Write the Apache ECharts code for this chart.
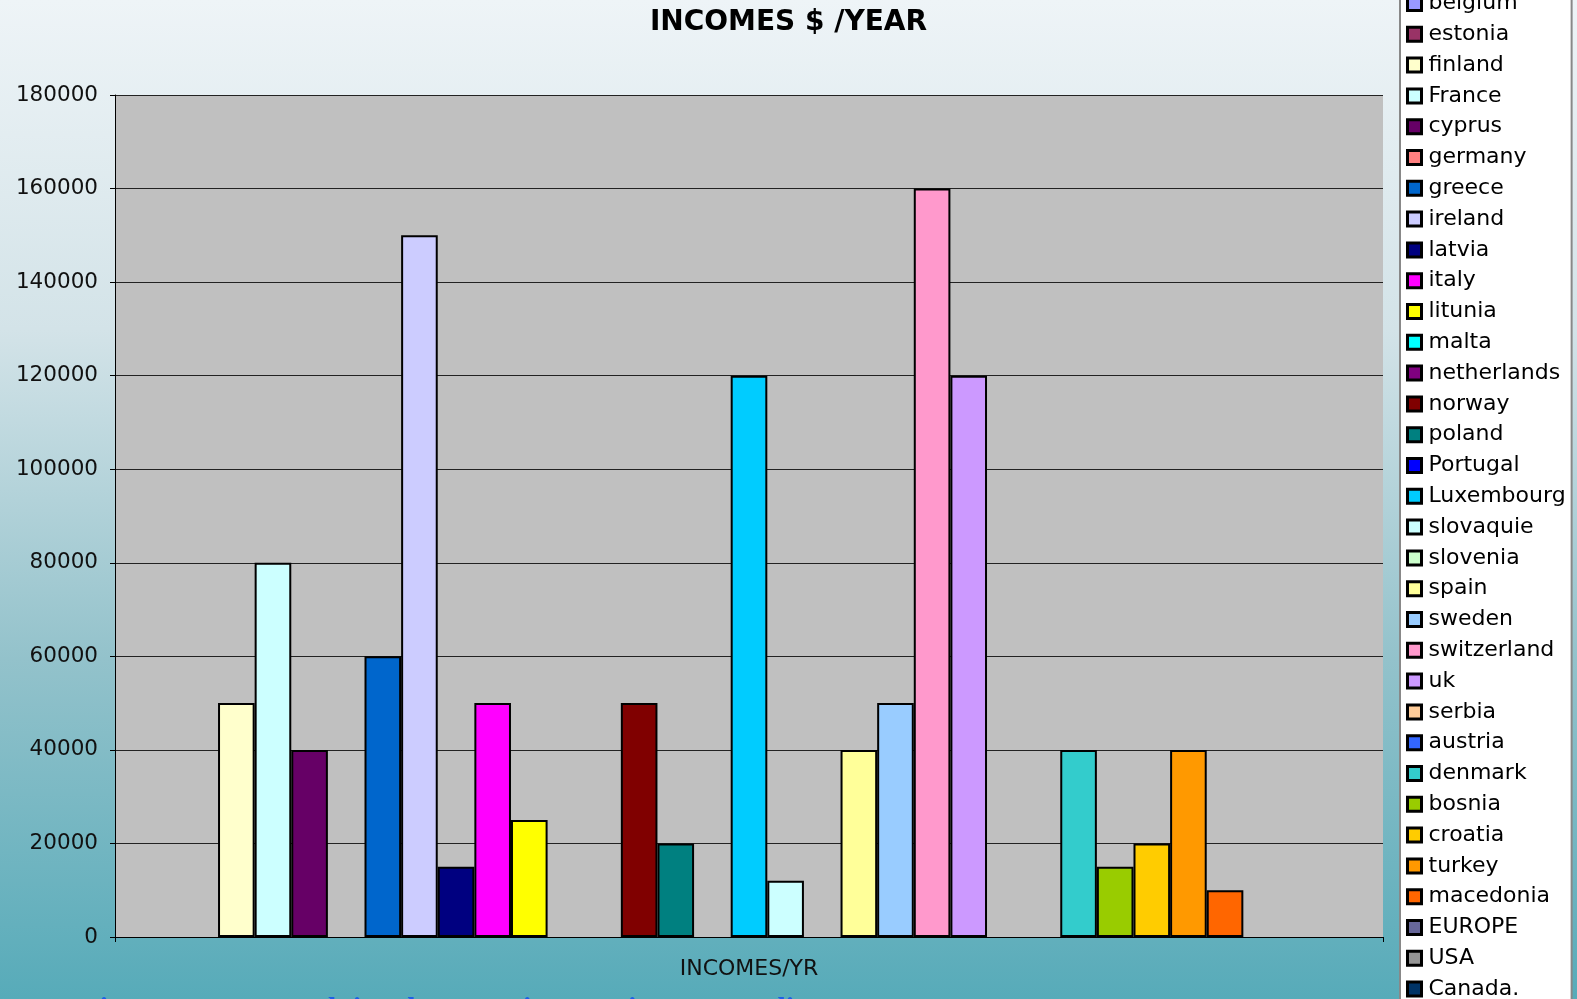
<!DOCTYPE html>
<html>
<head>
<meta charset="utf-8">
<script src="https://cdn.jsdelivr.net/npm/echarts@6/dist/echarts.min.js"></script>
<style>
  html, body { margin: 0; padding: 0; }
  #chart {
    width: 1577px;
    height: 999px;
    background: linear-gradient(to bottom, #eef4f7 0%, #d3e3e8 33%, #93c2cb 66%, #57abb9 100%);
  }
</style>
</head>
<body>
<div id="chart"></div>
<script>
const categories = ['INCOMES/YR']

const countries = [
  'belgium', 'estonia', 'finland', 'France', 'cyprus', 'germany', 'greece', 'ireland',
  'latvia', 'italy', 'litunia', 'malta', 'netherlands', 'norway', 'poland', 'Portugal',
  'Luxembourg', 'slovaquie', 'slovenia', 'spain', 'sweden', 'switzerland', 'uk', 'serbia',
  'austria', 'denmark', 'bosnia', 'croatia', 'turkey', 'macedonia', 'EUROPE', 'USA', 'Canada.'
]

// 0 = no value entered in the sheet
const incomes = [
  0, 0, 50000, 80000, 40000, 0, 60000, 150000,
  15000, 50000, 25000, 0, 0, 50000, 20000, 0,
  120000, 12000, 0, 40000, 50000, 160000, 120000, 0,
  0, 40000, 15000, 20000, 40000, 10000, 0, 0, 0
]

const colors = [
  '#9999FF', '#993366', '#FFFFCC', '#CCFFFF', '#660066', '#FF8080', '#0066CC', '#CCCCFF',
  '#000080', '#FF00FF', '#FFFF00', '#00FFFF', '#800080', '#800000', '#008080', '#0000FF',
  '#00CCFF', '#CCFFFF', '#CCFFCC', '#FFFF99', '#99CCFF', '#FF99CC', '#CC99FF', '#FFCC99',
  '#3366FF', '#33CCCC', '#99CC00', '#FFCC00', '#FF9900', '#FF6600', '#666699', '#969696', '#003366'
]

const yTicks = [0, 20000, 40000, 60000, 80000, 100000, 120000, 140000, 160000, 180000]

const chart = echarts.init(document.getElementById('chart'))

const series = countries.map((name, i) => ({
  name: name,
  type: 'bar',
  data: [incomes[i] === 0 ? '-' : incomes[i]],
  barGap: '0%',
  barCategoryGap: '4.7%',
  itemStyle: {
    color: colors[i],
    borderColor: '#000',
    borderWidth: 2,
  },
  emphasis: { disabled: true },
}))

const option = {
  animation: false,
  color: colors,
  title: {
    text: 'INCOMES $ /YEAR',
    left: 'center',
    top: 4,
    textStyle: {
      fontFamily: 'DejaVu Sans',
      fontSize: 28,
      fontWeight: 'bold',
      color: '#000',
    },
  },
  legend: {
    orient: 'vertical',
    left: 1400,
    top: -17.5,
    height: 1100,
    padding: [10, 6, 10, 6],
    backgroundColor: '#fff',
    borderColor: '#888',
    borderWidth: 2,
    icon: 'rect',
    itemWidth: 14,
    itemHeight: 14,
    itemGap: 8.8,
    itemStyle: {
      borderColor: '#000',
      borderWidth: 3,
    },
    textStyle: {
      fontFamily: 'DejaVu Sans',
      fontSize: 22,
      lineHeight: 22,
      color: '#000',
      padding: [0, 0, 0, 2],
    },
    data: countries,
  },
  grid: {
    left: 115,
    right: 194,
    top: 95,
    bottom: 62,
    show: true,
    backgroundColor: '#c0c0c0',
    borderWidth: 0,
  },
  xAxis: {
    type: 'category',
    data: categories,
    axisLine: { lineStyle: { color: '#000', width: 1 } },
    axisTick: { show: true, length: 5, lineStyle: { color: '#000' } },
    axisLabel: {
      margin: 21,
      fontFamily: 'DejaVu Sans',
      fontSize: 22,
      color: '#111',
    },
  },
  yAxis: {
    type: 'value',
    min: yTicks[0],
    max: yTicks[yTicks.length - 1],
    interval: 20000,
    axisLine: { show: true, lineStyle: { color: '#000', width: 1 } },
    axisTick: { show: true, length: 5, lineStyle: { color: '#000' } },
    axisLabel: {
      margin: 17,
      fontFamily: 'DejaVu Sans',
      fontSize: 21.5,
      color: '#111',
      formatter: (v) => String(v),
    },
    splitLine: { lineStyle: { color: '#222', width: 1 } },
  },
  graphic: [
    {
      type: 'text',
      left: 8,
      top: 995,
      style: {
        text: 'Comenius   SENIOR   Pelajo   du   Garnier   Project   Sarradi 26 May  2011',
        fontFamily: 'Liberation Serif',
        fontWeight: 'bold',
        fontSize: 30,
        fill: '#1f5fe6',
      },
    },
  ],
  series: series,
}

chart.setOption(option)
</script>
</body>
</html>
